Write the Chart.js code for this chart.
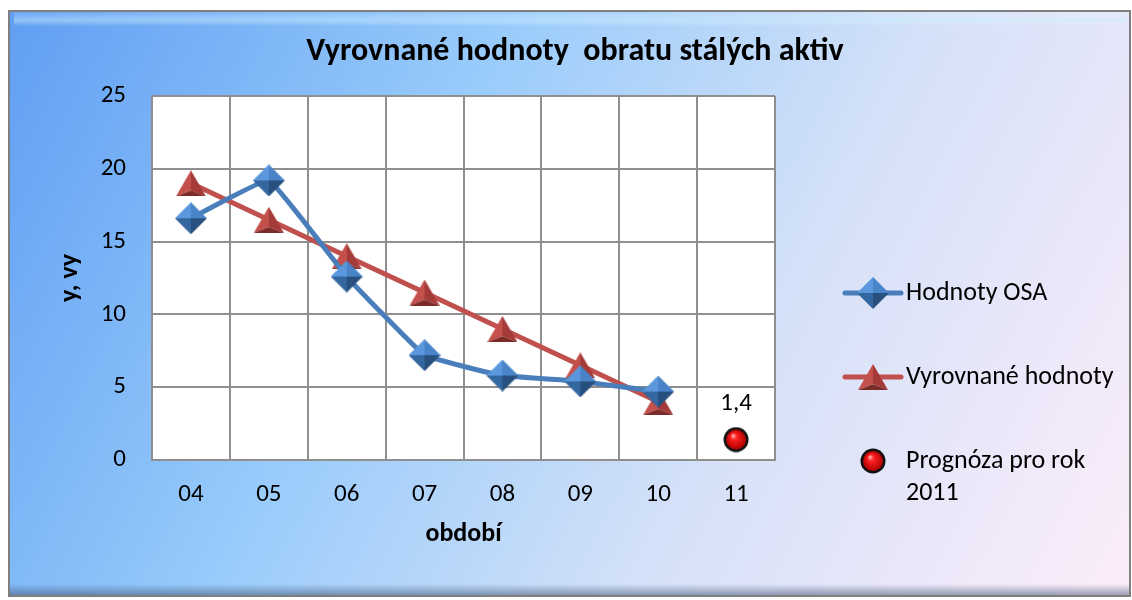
<!DOCTYPE html>
<html>
<head>
<meta charset="utf-8">
<script src="https://cdn.jsdelivr.net/npm/chart.js@4/dist/chart.umd.min.js"></script>
<style>
  html, body { margin: 0; padding: 0; background: #fff; }
  #wrap { width: 1132px; height: 600px; }
</style>
</head>
<body>
<div id="wrap"><canvas id="chart" width="1132" height="600"></canvas></div>
<script>
// data
const periods = ['04', '05', '06', '07', '08', '09', '10', '11'];
const osaValues = [16.6, 19.2, 12.6, 7.2, 5.8, 5.4, 4.7, null];
const fittedValues = [19.0, 16.5, 14.0, 11.5, 9.0, 6.5, 4.0, null];
const forecastValues = [null, null, null, null, null, null, null, 1.4];
const forecastLabel = '1,4';
const yTicks = [0, 5, 10, 15, 20, 25];

const FONT = 'Carlito, "Open Sans", "Noto Sans", sans-serif';

// 3d-ish marker images
function diamondMarker(w, h) {
    const c = document.createElement('canvas');
    c.width = w; c.height = h;
    const g = c.getContext('2d');
    const cx = w / 2, cy = h / 2;
    const face = (pts, col) => {
        g.beginPath();
        g.moveTo(pts[0][0], pts[0][1]);
        pts.slice(1).forEach(p => g.lineTo(p[0], p[1]));
        g.closePath();
        g.fillStyle = col;
        g.fill();
    };
    face([[cx, 0], [0, cy], [cx, cy]], '#5a97dc');
    face([[cx, 0], [w, cy], [cx, cy]], '#4a84c8');
    face([[0, cy], [cx, h], [cx, cy]], '#34679f');
    face([[w, cy], [cx, h], [cx, cy]], '#28507f');
    return c;
}

function triangleMarker(w, h) {
    const c = document.createElement('canvas');
    c.width = w; c.height = h;
    const g = c.getContext('2d');
    const face = (pts, col) => {
        g.beginPath();
        g.moveTo(pts[0][0], pts[0][1]);
        pts.slice(1).forEach(p => g.lineTo(p[0], p[1]));
        g.closePath();
        g.fillStyle = col;
        g.fill();
    };
    const inner = [w / 2, h * 0.78];
    face([[w / 2, 0], [0, h], inner], '#c4504c');
    face([[w / 2, 0], inner, [w, h]], '#a53b38');
    face([[0, h], [w, h], inner], '#7c2b29');
    return c;
}

function ballMarker(d) {
    const c = document.createElement('canvas');
    c.width = d; c.height = d;
    const g = c.getContext('2d');
    const r = d / 2;
    g.beginPath();
    g.arc(r, r, r - 0.5, 0, Math.PI * 2);
    g.fillStyle = '#111';
    g.fill();
    const rg = g.createRadialGradient(r - 3, r - 4, 1, r, r, r - 3);
    rg.addColorStop(0, '#ff9a9a');
    rg.addColorStop(0.25, '#ff2020');
    rg.addColorStop(1, '#b00000');
    g.beginPath();
    g.arc(r, r, r - 3, 0, Math.PI * 2);
    g.fillStyle = rg;
    g.fill();
    return c;
}

const diamondImg = diamondMarker(32, 32);
const triangleImg = triangleMarker(30, 26);
const ballImg = ballMarker(26);

// background, frame, plot area, title, legend
const decor = {
    id: 'decor',
    beforeDraw(chart) {
        const { ctx, chartArea: a } = chart;
        ctx.save();
        const bg = ctx.createLinearGradient(8, 10, 1130, 597);
        bg.addColorStop(0, '#5f9ef2');
        bg.addColorStop(0.35, '#98cbfb');
        bg.addColorStop(0.65, '#d4e1f8');
        bg.addColorStop(1, '#fdedfa');
        ctx.fillStyle = bg;
        ctx.fillRect(9, 11, 1121, 585);
        // bevel highlights
        const top = ctx.createLinearGradient(0, 12, 0, 26);
        top.addColorStop(0, 'rgba(255,255,255,0.05)');
        top.addColorStop(0.6, 'rgba(200,240,255,0.45)');
        top.addColorStop(1, 'rgba(255,255,255,0)');
        ctx.fillStyle = top;
        ctx.fillRect(14, 12, 1112, 14);
        const bot = ctx.createLinearGradient(0, 584, 0, 596);
        bot.addColorStop(0, 'rgba(60,80,110,0)');
        bot.addColorStop(1, 'rgba(60,80,110,0.55)');
        ctx.fillStyle = bot;
        ctx.fillRect(9, 584, 1121, 12);
        ctx.strokeStyle = '#7f7f7f';
        ctx.lineWidth = 2;
        ctx.strokeRect(9, 11, 1121, 585);
        // plot area
        ctx.fillStyle = '#ffffff';
        ctx.fillRect(a.left, a.top, a.right - a.left, a.bottom - a.top);
        ctx.restore();
    },
    afterDraw(chart) {
        const { ctx } = chart;
        ctx.save();
        ctx.fillStyle = '#000';
        ctx.textBaseline = 'middle';
        ctx.textAlign = 'center';
        ctx.font = 'bold 32px ' + FONT;
        ctx.fillText('Vyrovnané hodnoty  obratu stálých aktiv', 575, 52);

        // legend
        const lx = 845, lw = 56, tx = 906;
        ctx.textAlign = 'left';
        ctx.font = '26px ' + FONT;
        const ds = chart.data.datasets;
        const rows = [
            { y: 293, line: ds[0].borderColor, img: diamondImg, text: [ds[0].label] },
            { y: 377, line: ds[1].borderColor, img: triangleImg, text: [ds[1].label] },
            { y: 461, line: null, img: ballImg, text: ['Prognóza pro rok', '2011'] }
        ];
        rows.forEach(r => {
            if (r.line) {
                ctx.strokeStyle = r.line;
                ctx.lineWidth = 5;
                ctx.lineCap = 'round';
                ctx.beginPath();
                ctx.moveTo(lx, r.y);
                ctx.lineTo(lx + lw, r.y);
                ctx.stroke();
            }
            ctx.drawImage(r.img, lx + lw / 2 - r.img.width / 2, r.y - r.img.height / 2);
            r.text.forEach((t, i) => ctx.fillText(t, tx, r.y + i * 32));
        });

        // forecast value label
        const meta = chart.getDatasetMeta(2);
        meta.data.forEach((pt, i) => {
            if (forecastValues[i] == null) return;
            ctx.textAlign = 'center';
            ctx.font = '25px ' + FONT;
            ctx.fillText(forecastLabel, pt.x, pt.y - 36);
        });
        ctx.restore();
    }
};

new Chart(document.getElementById('chart'), {
    type: 'line',
    data: {
        labels: periods,
        datasets: [
            {
                label: 'Hodnoty OSA',
                data: osaValues,
                borderColor: '#4a7ebb',
                borderWidth: 5,
                tension: 0.08,
                pointStyle: diamondImg,
                spanGaps: false
            },
            {
                label: 'Vyrovnané hodnoty',
                data: fittedValues,
                borderColor: '#c0504d',
                borderWidth: 5,
                tension: 0,
                pointStyle: triangleImg
            },
            {
                label: 'Prognóza pro rok 2011',
                data: forecastValues,
                showLine: false,
                pointStyle: ballImg
            }
        ]
    },
    options: {
        responsive: false,
        animation: false,
        devicePixelRatio: 1,
        layout: { padding: { left: 55, right: 357, top: 96, bottom: 40 } },
        plugins: {
            legend: { display: false },
            title: { display: false },
            tooltip: { enabled: false }
        },
        elements: { line: { borderCapStyle: 'round', borderJoinStyle: 'round' } },
        scales: {
            x: {
                offset: true,
                grid: { color: '#8f8f8f', lineWidth: 2, drawTicks: false, offset: true },
                border: { color: '#8f8f8f', width: 2 },
                ticks: { color: '#000', padding: 20, font: { size: 25, family: FONT } },
                title: {
                    display: true, text: 'období', color: '#000',
                    font: { size: 26, weight: 'bold', family: FONT },
                    padding: { top: 0, bottom: 10 }
                },
                afterFit(s) { s.height = 100; }
            },
            y: {
                min: 0,
                max: 25,
                afterBuildTicks(s) { s.ticks = yTicks.map(v => ({ value: v })); },
                grid: { color: '#8f8f8f', lineWidth: 2, drawTicks: false },
                border: { color: '#8f8f8f', width: 2 },
                ticks: { color: '#000', padding: 26, font: { size: 25, family: FONT } },
                title: {
                    display: true, text: 'y, vy', color: '#000',
                    font: { size: 26, weight: 'bold', family: FONT },
                    padding: { top: 0, bottom: 0 }
                },
                afterFit(s) { s.width = 97; }
            }
        }
    },
    plugins: [decor]
});
</script>
</body>
</html>
